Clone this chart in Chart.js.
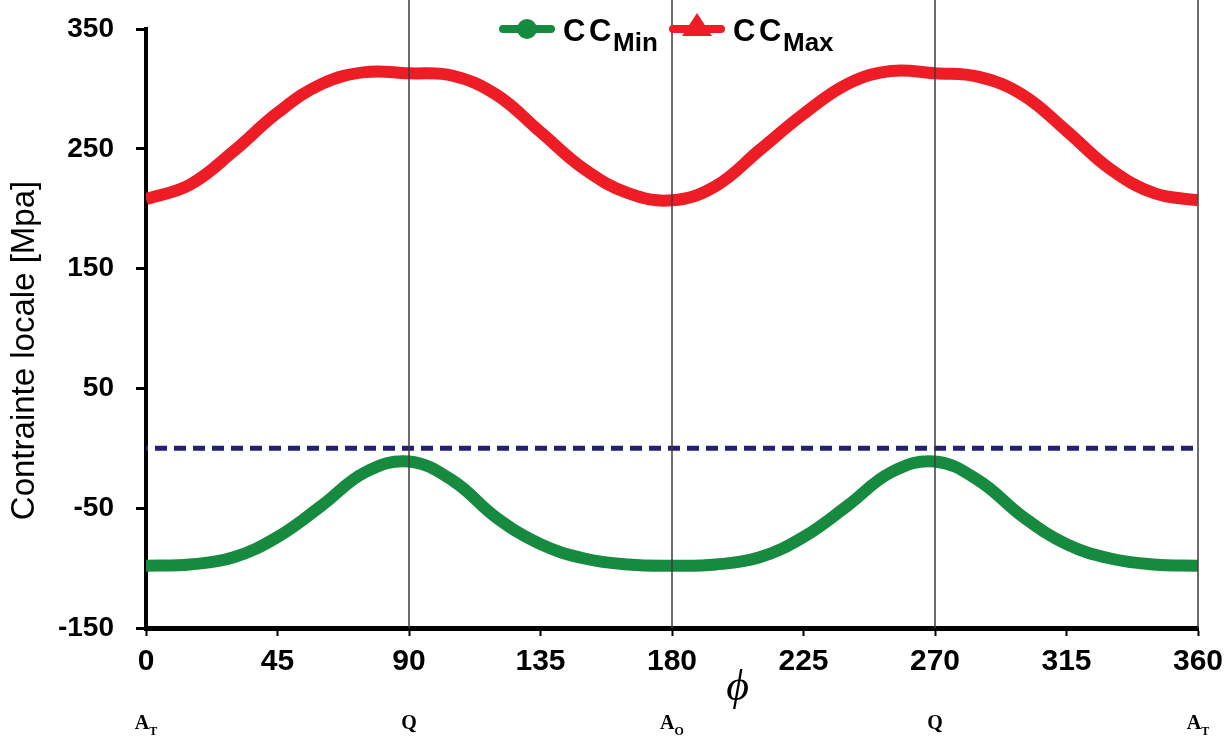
<!DOCTYPE html>
<html>
<head>
<meta charset="utf-8">
<script src="https://cdn.jsdelivr.net/npm/chart.js@4/dist/chart.umd.min.js"></script>
<style>
    html, body { margin: 0; padding: 0; background: #fff; }
    #wrap { width: 1232px; height: 742px; }
</style>
</head>
<body>
<div id="wrap"><canvas id="chart" width="1232" height="742"></canvas></div>
<script>
// Données
const angles = [0, 15, 30, 45, 60, 75, 90, 105, 120, 135, 150, 165, 180,
                195, 210, 225, 240, 255, 270, 285, 300, 315, 330, 345, 360];
const ccMin = [-98, -97, -91, -74, -48, -20, -11, -27, -58, -80, -92, -97, -98,
               -97, -91, -74, -48, -20, -11, -27, -57, -80, -92, -97, -98];
const ccMax = [208, 220, 248, 280, 304, 314, 313, 311, 295, 264, 233, 213, 207,
               219, 249, 279, 304, 315, 313, 310, 295, 265, 233, 213, 207];
const zeroLevel = 0;

// Repères angulaires
const refAngles = [90, 180, 270, 360];
const posAngles = [0, 90, 180, 270, 360];
const posLabels = ['A', 'Q', 'A', 'Q', 'A'];
const posSubs = ['T', '', 'O', '', 'T'];

const yTitle = 'Contrainte locale [Mpa]';
const xTitle = '\u03D5';

const GREEN = '#168a3f';
const RED = '#ee1d25';
const NAVY = '#24206e';
const SANS = "'Liberation Sans', Arial, sans-serif";
const SERIF = "'Liberation Serif', 'Times New Roman', serif";

// Lignes verticales de repère
const refLinesPlugin = {
    id: 'refLines',
    afterDatasetsDraw(chart) {
        const { ctx, chartArea, scales: { x } } = chart;
        ctx.save();
        ctx.strokeStyle = '#3c3c3c';
        ctx.lineWidth = 1.5;
        refAngles.forEach(a => {
            const px = x.getPixelForValue(a);
            ctx.beginPath();
            ctx.moveTo(px, 0);
            ctx.lineTo(px, chartArea.bottom);
            ctx.stroke();
        });
        ctx.restore();
    }
};

// Légende, titres et étiquettes de position
const textPlugin = {
    id: 'texts',
    afterDraw(chart) {
        const { ctx, chartArea, scales: { x } } = chart;
        const mid = x.getPixelForValue(180);
        ctx.save();

        // légende
        const drawItem = (x0, color, marker, sub) => {
            ctx.strokeStyle = color;
            ctx.fillStyle = color;
            ctx.lineWidth = 8;
            ctx.lineCap = 'round';
            ctx.beginPath();
            ctx.moveTo(x0, 29);
            ctx.lineTo(x0 + 48, 29);
            ctx.stroke();
            ctx.beginPath();
            if (marker === 'circle') {
                ctx.arc(x0 + 24, 29, 10, 0, Math.PI * 2);
            } else {
                ctx.moveTo(x0 + 24, 13);
                ctx.lineTo(x0 + 39, 36);
                ctx.lineTo(x0 + 9, 36);
                ctx.closePath();
            }
            ctx.fill();
            ctx.fillStyle = '#000';
            ctx.textBaseline = 'alphabetic';
            ctx.textAlign = 'left';
            ctx.font = 'bold 31px ' + SANS;
            ctx.fillText('C', x0 + 60, 41);
            ctx.fillText('C', x0 + 86, 41);
            ctx.font = 'bold 26px ' + SANS;
            ctx.fillText(sub, x0 + 110, 51);
        };
        drawItem(mid - 169, GREEN, 'circle', 'Min');
        drawItem(mid + 1, RED, 'triangle', 'Max');

        // titre de l'axe y
        ctx.fillStyle = '#000';
        ctx.font = '33px ' + SANS;
        ctx.textAlign = 'center';
        ctx.textBaseline = 'middle';
        ctx.translate(25, (chartArea.top + chartArea.bottom) / 2 + 22);
        ctx.rotate(-Math.PI / 2);
        ctx.fillText(yTitle, 0, 0);
        ctx.setTransform(1, 0, 0, 1, 0, 0);

        // titre de l'axe x
        ctx.font = 'italic 44px ' + SERIF;
        ctx.textBaseline = 'alphabetic';
        ctx.fillText(xTitle, x.getPixelForValue(202.5), 700);

        // étiquettes de position
        posAngles.forEach((a, i) => {
            const px = x.getPixelForValue(a);
            ctx.font = 'bold 20px ' + SERIF;
            const wMain = ctx.measureText(posLabels[i]).width;
            ctx.font = 'bold 12px ' + SERIF;
            const wSub = posSubs[i] ? ctx.measureText(posSubs[i]).width : 0;
            const start = px - (wMain + wSub) / 2;
            ctx.textAlign = 'left';
            ctx.font = 'bold 20px ' + SERIF;
            ctx.fillText(posLabels[i], start, 729);
            if (posSubs[i]) {
                ctx.font = 'bold 12px ' + SERIF;
                ctx.fillText(posSubs[i], start + wMain, 735);
            }
        });
        ctx.restore();
    }
};

const toPoints = arr => angles.map((a, i) => ({ x: a, y: arr[i] }));

new Chart(document.getElementById('chart'), {
    type: 'line',
    data: {
        datasets: [
            {
                label: 'zero',
                data: [{ x: angles[0], y: zeroLevel }, { x: angles[angles.length - 1], y: zeroLevel }],
                borderColor: NAVY,
                borderWidth: 5,
                borderDash: [12, 7],
                borderDashOffset: -9,
                pointRadius: 0
            },
            {
                label: 'CC Min',
                data: toPoints(ccMin),
                borderColor: GREEN,
                borderWidth: 12,
                pointRadius: 0,
                tension: 0.4
            },
            {
                label: 'CC Max',
                data: toPoints(ccMax),
                borderColor: RED,
                borderWidth: 12,
                pointRadius: 0,
                tension: 0.4
            }
        ]
    },
    options: {
        responsive: false,
        animation: false,
        devicePixelRatio: 1,
        layout: { padding: { top: 29, right: 34, left: 0, bottom: 0 } },
        plugins: {
            legend: { display: false },
            tooltip: { enabled: false }
        },
        scales: {
            x: {
                type: 'linear',
                min: 0,
                max: 360,
                afterFit: s => { s.height = 114; s.paddingLeft = 0; s.paddingRight = 0; },
                ticks: {
                    stepSize: 45,
                    color: '#000',
                    padding: 8,
                    maxRotation: 0,
                    font: { family: SANS, size: 30, weight: 'bold' }
                },
                grid: {
                    drawOnChartArea: false,
                    drawTicks: true,
                    tickLength: 8,
                    tickWidth: 2,
                    tickColor: '#000'
                },
                border: { display: true, color: '#000', width: 5 }
            },
            y: {
                min: -150,
                max: 350,
                afterFit: s => { s.width = 146; s.paddingTop = 0; s.paddingBottom = 0; },
                ticks: {
                    stepSize: 100,
                    color: '#000',
                    padding: 22,
                    font: { family: SANS, size: 28, weight: 'bold' }
                },
                grid: {
                    drawOnChartArea: false,
                    drawTicks: true,
                    tickLength: 10,
                    tickWidth: 3,
                    tickColor: '#000'
                },
                border: { display: true, color: '#000', width: 4 }
            }
        }
    },
    plugins: [refLinesPlugin, textPlugin]
});
</script>
</body>
</html>
